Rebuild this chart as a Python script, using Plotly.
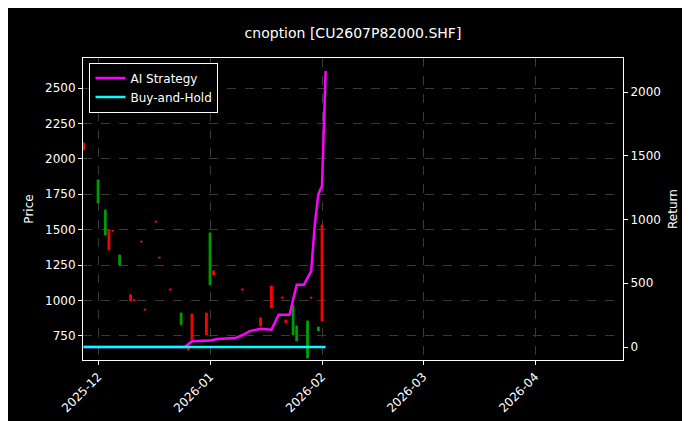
import plotly.graph_objects as go
import pandas as pd

dates = ["2025-11-27","2025-12-01","2025-12-03","2025-12-04","2025-12-05","2025-12-07","2025-12-10","2025-12-11",
         "2025-12-13","2025-12-14","2025-12-17","2025-12-18","2025-12-21","2025-12-24","2025-12-26","2025-12-27",
         "2025-12-31","2026-01-01","2026-01-02","2026-01-10","2026-01-15","2026-01-18","2026-01-21","2026-01-22",
         "2026-01-24","2026-01-25","2026-01-28","2026-01-29","2026-01-31","2026-02-01"]
opens  = [2063,1851,1639,1357,1490,1321,997,1000,1413,933,1554,1300,1075,912,650,722,757,1477,1180,1075,820,948,1018,842,962,820,856,1018,813,856]
highs  = [2112,1851,1639,1498,1495,1321,1040,1005,1418,938,1559,1305,1080,912,680,905,912,1477,1209,1080,877,1103,1023,863,962,820,856,1023,813,1533]
lows   = [2063,1689,1463,1357,1485,1250,997,995,1408,928,1549,1295,1070,828,650,722,757,1110,1180,1070,820,948,1013,842,757,715,595,1013,785,856]
closes = [2112,1689,1463,1498,1495,1250,1040,1005,1418,938,1559,1305,1080,828,680,905,912,1110,1209,1080,877,1103,1023,863,757,715,595,1023,785,1533]

ai_dates = ["2025-11-27","2025-12-25","2025-12-27","2026-01-01","2026-01-03","2026-01-08","2026-01-10","2026-01-12",
            "2026-01-15","2026-01-18","2026-01-20","2026-01-23","2026-01-25","2026-01-27","2026-01-29","2026-01-30",
            "2026-01-31","2026-02-01","2026-02-02"]
ai_ret = [0,0,45,50,63,70,94,125,143,135,253,253,489,489,596,959,1200,1263,2165]
bh_dates = ["2025-11-27","2026-02-02"]
bh_ret = [0,0]

fig = go.Figure()
fig.add_trace(go.Candlestick(x=dates, open=opens, high=highs, low=lows, close=closes,
    increasing=dict(line=dict(color="#ff0000", width=1), fillcolor="#ff0000"),
    decreasing=dict(line=dict(color="#00a000", width=1), fillcolor="#00a000"),
    whiskerwidth=0, showlegend=False, yaxis="y"))
fig.add_trace(go.Scatter(x=ai_dates, y=ai_ret, mode="lines", name="AI Strategy",
    line=dict(color="#ff00ff", width=2.5), yaxis="y2"))
fig.add_trace(go.Scatter(x=bh_dates, y=bh_ret, mode="lines", name="Buy-and-Hold",
    line=dict(color="#00ffff", width=2.5), yaxis="y2"))

base = dict(zeroline=False, automargin=False,
            showline=True, linecolor="#fff", ticks="outside", tickcolor="#fff", ticklen=4,
            tickfont=dict(color="#fff", size=12, family="DejaVu Sans"))
fig.update_layout(
    width=690, height=421, paper_bgcolor="#000", plot_bgcolor="#000",
    margin=dict(l=75, r=75, t=50, b=69),
    title=dict(text="cnoption [CU2607P82000.SHF]", x=0.5, xanchor="center", y=0.952,
               font=dict(color="#fff", size=14, family="DejaVu Sans")),
    font=dict(family="DejaVu Sans", color="#fff"),
    xaxis=dict(**base, showgrid=True, gridcolor="#3a3a3a", griddash="dash", gridwidth=0.5,
               type="date", range=["2025-11-26 20:00", "2026-04-25 08:00"],
               tickvals=["2025-12-01","2026-01-01","2026-02-01","2026-03-01","2026-04-01"],
               ticktext=["2025-12","2026-01","2026-02","2026-03","2026-04"],
               tickangle=-45, rangeslider=dict(visible=False), mirror=True),
    yaxis=dict(**base, showgrid=True, gridcolor="#3a3a3a", griddash="dash", gridwidth=0.5,
               range=[580, 2712], tickvals=[750,1000,1250,1500,1750,2000,2250,2500],
               title=dict(text="Price", font=dict(color="#fff", size=12), standoff=8)),
    yaxis2=dict(**base, showgrid=False,
                overlaying="y", side="right", range=[-102, 2267], tickvals=[0,500,1000,1500,2000],
                title=dict(text="Return", font=dict(color="#fff", size=12), standoff=8)),
    legend=dict(x=0.012, y=0.985, xanchor="left", yanchor="top", bgcolor="#000",
                bordercolor="#fff", borderwidth=1, font=dict(color="#fff", size=12)),
)
fig.write_html("out.html")
